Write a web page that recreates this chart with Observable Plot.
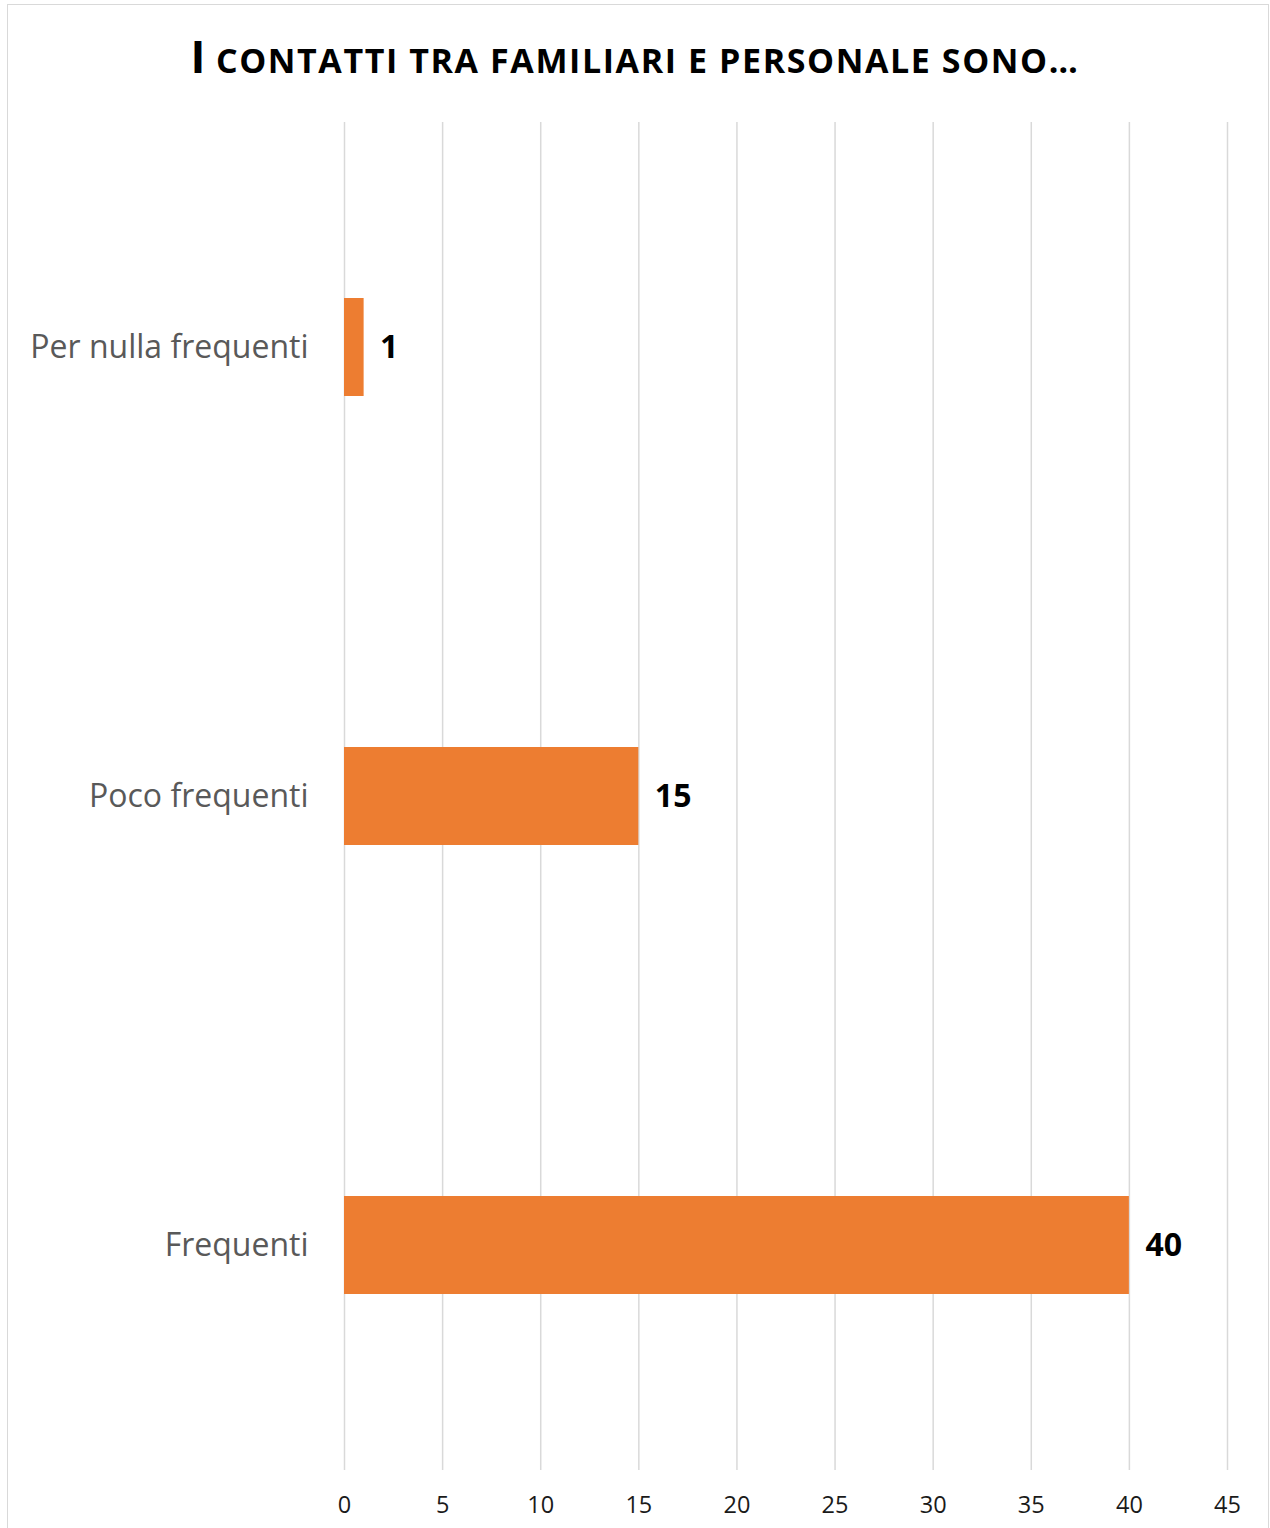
<!DOCTYPE html>
<html><head><meta charset="utf-8">
<script src="https://cdn.jsdelivr.net/npm/d3@7"></script>
<script src="https://cdn.jsdelivr.net/npm/@observablehq/plot@0.6"></script>
<style>
html,body{margin:0;padding:0;background:#fff;}
#wrap{position:relative;width:1270px;height:1528px;overflow:hidden;background:#fff;}
#frame{position:absolute;left:7px;top:4px;width:1262px;height:1600px;border:1.5px solid #d9d9d9;box-sizing:border-box;pointer-events:none;}
#title{position:absolute;left:0;top:33px;width:1270px;text-align:center;font-family:"Open Sans",sans-serif;font-weight:700;font-size:45px;line-height:45px;color:#000;white-space:nowrap;}
#title .sc{font-size:34px;letter-spacing:1.6px;}
#chart{position:absolute;left:0;top:120px;}
</style></head>
<body>
<div id="wrap">
  <div id="title"><span>I</span><span class="sc"> CONTATTI TRA FAMILIARI E PERSONALE SONO…</span></div>
  <div id="chart"></div>
  <div id="frame"></div>
</div>
<script>
const categories = ["Per nulla frequenti", "Poco frequenti", "Frequenti"];
const values = [1, 15, 40];
const xTicks = [0, 5, 10, 15, 20, 25, 30, 35, 40, 45];

const data = categories.map((c, i) => ({category: c, value: values[i]}));

const chart = Plot.plot({
  width: 1270,
  height: 1408,
  marginLeft: 344,
  marginRight: 43,
  marginTop: 2,
  marginBottom: 58,
  style: {fontFamily: "'Open Sans', sans-serif", background: "transparent"},
  x: {domain: [0, 45]},
  y: {domain: categories, paddingInner: 0.782, paddingOuter: 0.391},
  marks: [
    Plot.ruleX(xTicks, {stroke: "#d9d9d9", strokeWidth: 1.5}),
    Plot.barX(data, {x: "value", y: "category", fill: "#ED7D31"}),
    Plot.text(data, {x: "value", y: "category", text: d => String(d.value), dx: 16, textAnchor: "start", fontSize: 32, fontWeight: 700, fill: "#000"}),
    Plot.axisY({tickSize: 0, tickPadding: 36, fontSize: 32, color: "#595959", label: null}),
    Plot.axisX({ticks: xTicks, tickSize: 0, tickPadding: 26, fontSize: 23.5, color: "#1a1a1a", label: null})
  ]
});
document.getElementById("chart").appendChild(chart);
</script>
</body></html>
